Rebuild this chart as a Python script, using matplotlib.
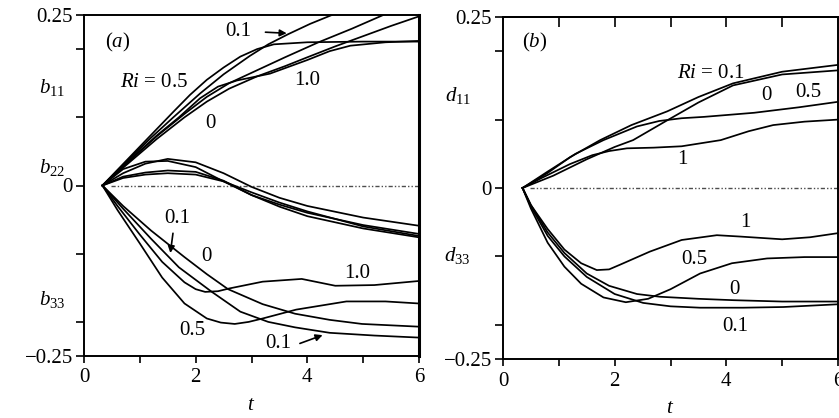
import numpy as np
import matplotlib.pyplot as plt

plt.rcParams['font.family'] = ['Liberation Serif', 'DejaVu Serif']
plt.rcParams['mathtext.fontset'] = 'custom'
plt.rcParams['mathtext.rm'] = 'Liberation Serif'
plt.rcParams['mathtext.it'] = 'Liberation Serif:italic'
plt.rcParams['lines.solid_joinstyle'] = 'round'

# ---- panel (a): b11, b22, b33 ----
b11_t = {
    '0.5': [0.33, 0.8, 1.2, 1.6, 1.9, 2.2, 2.5, 2.8, 3.1, 3.4, 4.0, 5.0, 6.0],
    '0.1': [0.33, 0.8, 1.2, 1.6, 2.08, 2.5, 2.97, 3.3, 3.66, 4.05, 4.44],
    'x':   [0.33, 0.8, 1.3, 1.8, 2.2, 2.6, 3.1, 3.6, 4.2, 4.8, 5.36],
    '0':   [0.33, 0.8, 1.3, 1.8, 2.2, 2.6, 3.1, 3.6, 4.0, 4.5, 5.0, 5.5, 6.0],
    '1.0': [0.33, 0.8, 1.3, 1.7, 2.08, 2.4, 2.74, 3.33, 4.0, 4.4, 4.77, 5.4, 6.0],
}
b11_v = {
    '0.5': [0, 0.04, 0.074, 0.108, 0.133, 0.155, 0.173, 0.189, 0.2, 0.207, 0.21, 0.211, 0.211],
    '0.1': [0, 0.038, 0.07, 0.1, 0.135, 0.163, 0.19, 0.207, 0.222, 0.237, 0.25],
    'x':   [0, 0.035, 0.072, 0.105, 0.13, 0.15, 0.169, 0.188, 0.21, 0.23, 0.25],
    '0':   [0, 0.033, 0.068, 0.1, 0.123, 0.142, 0.16, 0.175, 0.188, 0.204, 0.219, 0.234, 0.248],
    '1.0': [0, 0.036, 0.073, 0.1, 0.128, 0.145, 0.154, 0.164, 0.184, 0.197, 0.205, 0.21, 0.212],
}
b22_t = [0.33, 0.7, 1.1, 1.5, 2.0, 2.5, 3.0, 3.5, 4.0, 5.0, 6.0]
b22_v = [
    [0, 0.024, 0.035, 0.036, 0.027, 0.006, -0.014, -0.028, -0.04, -0.058, -0.071],
    [0, 0.018, 0.032, 0.039, 0.034, 0.018, -0.002, -0.018, -0.03, -0.047, -0.059],
    [0, 0.011, 0.016, 0.018, 0.016, 0.006, -0.01, -0.025, -0.038, -0.06, -0.074],
    [0, 0.013, 0.019, 0.022, 0.02, 0.007, -0.014, -0.031, -0.045, -0.063, -0.076],
]
b33_t = {
    '1.0': [0.33, 0.6, 1.0, 1.4, 1.8, 2.0, 2.17, 2.4, 2.6, 3.2, 3.9, 4.5, 5.2, 6.0],
    '0.5': [0.33, 0.6, 1.0, 1.4, 1.8, 2.2, 2.45, 2.7, 2.95, 3.2, 3.8, 4.7, 5.4, 6.0],
    '0':   [0.33, 0.7, 1.2, 1.8, 2.2, 2.58, 3.2, 3.78, 4.4, 4.98, 6.0],
    '0.1': [0.33, 0.7, 1.2, 1.7, 2.29, 2.8, 3.3, 3.78, 4.4, 5.2, 6.0],
}
b33_v = {
    '1.0': [0, -0.03, -0.072, -0.112, -0.142, -0.152, -0.156, -0.155, -0.151, -0.141, -0.137, -0.147, -0.146, -0.14],
    '0.5': [0, -0.036, -0.085, -0.135, -0.173, -0.195, -0.201, -0.203, -0.2, -0.195, -0.182, -0.17, -0.17, -0.173],
    '0':   [0, -0.03, -0.066, -0.105, -0.13, -0.152, -0.174, -0.188, -0.197, -0.203, -0.207],
    '0.1': [0, -0.034, -0.078, -0.12, -0.156, -0.185, -0.2, -0.208, -0.216, -0.22, -0.223],
}

# ---- panel (b): d11, d33 ----
d11_t = {
    '0.1': [0.35, 0.8, 1.2, 1.74, 2.3, 2.94, 3.5, 4.12, 5.0, 6.0],
    '0':   [0.35, 0.9, 1.5, 2.0, 2.33, 2.9, 3.5, 4.12, 5.0, 6.0],
    '0.5': [0.35, 0.8, 1.3, 1.8, 2.4, 2.8, 3.2, 3.6, 4.5, 5.3, 6.0],
    '1':   [0.35, 0.7, 1.2, 1.6, 1.9, 2.22, 2.7, 3.2, 3.9, 4.4, 4.84, 5.4, 6.0],
}
d11_v = {
    '0.1': [0, 0.022, 0.045, 0.07, 0.092, 0.112, 0.133, 0.153, 0.17, 0.18],
    '0':   [0, 0.018, 0.042, 0.06, 0.07, 0.097, 0.125, 0.15, 0.166, 0.172],
    '0.5': [0, 0.024, 0.05, 0.07, 0.09, 0.098, 0.102, 0.104, 0.11, 0.118, 0.126],
    '1':   [0, 0.015, 0.035, 0.048, 0.054, 0.058, 0.059, 0.061, 0.07, 0.083, 0.092, 0.097, 0.1],
}
d33_t = {
    '1':   [0.35, 0.5, 0.8, 1.1, 1.4, 1.68, 1.9, 2.1, 2.63, 3.2, 3.83, 4.25, 5.0, 5.5, 6.0],
    '0.5': [0.35, 0.5, 0.8, 1.1, 1.4, 1.8, 2.2, 2.6, 3.0, 3.53, 4.1, 4.73, 5.4, 6.0],
    '0':   [0.35, 0.5, 0.8, 1.1, 1.5, 1.9, 2.4, 2.81, 3.5, 4.12, 5.0, 6.0],
    '0.1': [0.35, 0.5, 0.8, 1.1, 1.5, 2.0, 2.51, 3.0, 3.53, 4.3, 5.02, 6.0],
}
d33_v = {
    '1':   [0, -0.025, -0.06, -0.09, -0.11, -0.12, -0.119, -0.112, -0.093, -0.076, -0.069, -0.071, -0.075, -0.072, -0.066],
    '0.5': [0, -0.03, -0.08, -0.115, -0.14, -0.16, -0.167, -0.162, -0.148, -0.125, -0.11, -0.103, -0.101, -0.101],
    '0':   [0, -0.025, -0.065, -0.095, -0.125, -0.143, -0.155, -0.159, -0.162, -0.164, -0.166, -0.166],
    '0.1': [0, -0.027, -0.07, -0.1, -0.13, -0.155, -0.168, -0.173, -0.175, -0.175, -0.174, -0.17],
}

fs = 15
lw = 1.25
W, H = 839, 418
fig = plt.figure(figsize=(W / 100, H / 100), dpi=100)
axa = fig.add_axes([84 / W, 1 - 356 / H, 335 / W, 341 / H])
axb = fig.add_axes([503 / W, 1 - 359 / H, 335 / W, 342 / H])


def style(ax):
    ax.set_xlim(0, 6)
    ax.set_ylim(-0.25, 0.25)
    ax.set_xticks([0, 1, 2, 3, 4, 5, 6])
    ax.set_xticklabels(['0', '', '2', '', '4', '', '6'])
    ax.set_yticks([-0.25, -0.2, -0.1, 0, 0.1, 0.2, 0.25])
    ax.set_yticklabels(['\u22120.25', '', '', '0', '', '', '0.25'])
    ax.tick_params(axis='x', direction='out', length=5, width=1.2, labelsize=fs, pad=4)
    ax.tick_params(axis='y', direction='out', length=6, width=1.2, labelsize=fs, pad=2)
    for s in ax.spines.values():
        s.set_linewidth(1.4)
    ax.set_xlabel('$t$', fontsize=fs, labelpad=6)
    ax.axhline(0, xmin=0.08, xmax=1, color='0.3', lw=1.0,
               dashes=(3, 1.5, 1, 1.5, 1, 1.5))


style(axa)
style(axb)
axa.spines['right'].set_linewidth(2.2)

# panel (b) carries inward ticks along its top edge
topb = axb.secondary_xaxis('top')
topb.set_xticks([1, 2, 3, 4, 5])
topb.tick_params(direction='in', length=7, width=1.2, labeltop=False)
topb.spines['top'].set_linewidth(1.4)

for k in b11_t:
    axa.plot(b11_t[k], b11_v[k], color='k', lw=lw)
for v in b22_v:
    axa.plot(b22_t, v, color='k', lw=lw)
for k in b33_t:
    axa.plot(b33_t[k], b33_v[k], color='k', lw=lw)
for k in d11_t:
    axb.plot(d11_t[k], d11_v[k], color='k', lw=lw)
for k in d33_t:
    axb.plot(d33_t[k], d33_v[k], color='k', lw=lw)

arrow = dict(arrowstyle='-|>', color='k', lw=1.2, mutation_scale=10)

# annotations panel (a)
axa.text(0.61, 0.209, '($a$)', fontsize=fs, ha='center', va='center')
axa.text(2.76, 0.226, '0.1', fontsize=fs, ha='center', va='center')
axa.annotate('', xy=(3.68, 0.223), xytext=(3.2, 0.225), arrowprops=arrow)
axa.text(1.86, 0.151, '$Ri$ = 0.5', fontsize=fs, ha='right', va='center')
axa.text(4.0, 0.154, '1.0', fontsize=fs, ha='center', va='center')
axa.text(2.26, 0.091, '0', fontsize=fs, ha='center', va='center')
axa.text(1.67, -0.048, '0.1', fontsize=fs, ha='center', va='center')
axa.annotate('', xy=(1.54, -0.103), xytext=(1.6, -0.066), arrowprops=arrow)
axa.text(2.2, -0.104, '0', fontsize=fs, ha='center', va='center')
axa.text(4.89, -0.129, '1.0', fontsize=fs, ha='center', va='center')
axa.text(1.94, -0.213, '0.5', fontsize=fs, ha='center', va='center')
axa.text(3.48, -0.231, '0.1', fontsize=fs, ha='center', va='center')
axa.annotate('', xy=(4.32, -0.218), xytext=(3.82, -0.233), arrowprops=arrow)

# annotations panel (b)
axb.text(0.56, 0.213, '($b$)', fontsize=fs, ha='center', va='center')
axb.text(3.12, 0.167, '$Ri$ = 0.1', fontsize=fs, ha='left', va='center')
axb.text(4.71, 0.135, '0', fontsize=fs, ha='center', va='center')
axb.text(5.47, 0.139, '0.5', fontsize=fs, ha='center', va='center')
axb.text(3.21, 0.041, '1', fontsize=fs, ha='center', va='center')
axb.text(4.34, -0.05, '1', fontsize=fs, ha='center', va='center')
axb.text(3.42, -0.104, '0.5', fontsize=fs, ha='center', va='center')
axb.text(4.14, -0.148, '0', fontsize=fs, ha='center', va='center')
axb.text(4.16, -0.202, '0.1', fontsize=fs, ha='center', va='center')

# row labels
fig.text(52 / W, 1 - 88 / H, '$b_{11}$', fontsize=fs, ha='center', va='center')
fig.text(52 / W, 1 - 168 / H, '$b_{22}$', fontsize=fs, ha='center', va='center')
fig.text(52 / W, 1 - 299 / H, '$b_{33}$', fontsize=fs, ha='center', va='center')
fig.text(458 / W, 1 - 96 / H, '$d_{11}$', fontsize=fs, ha='center', va='center')
fig.text(457 / W, 1 - 255 / H, '$d_{33}$', fontsize=fs, ha='center', va='center')

fig.savefig('out.png', dpi=100)
